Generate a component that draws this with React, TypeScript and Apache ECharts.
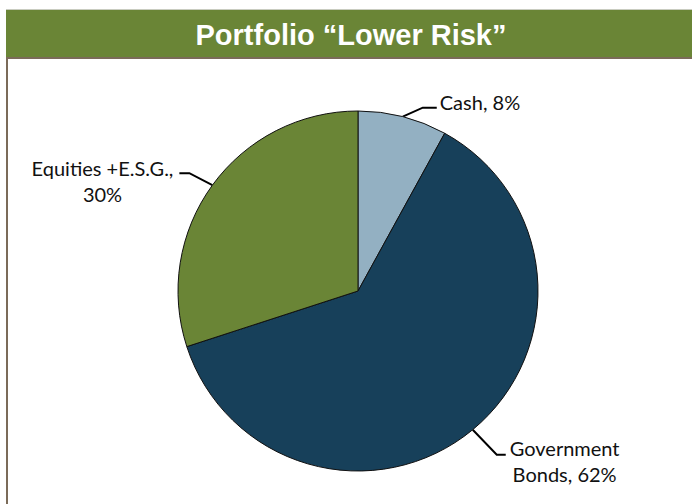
import React, { useEffect, useRef } from "react";
import * as echarts from "echarts";

const TITLE = "Portfolio \u201CLower Risk\u201D";
const categories = ["Cash", "Government Bonds", "Equities +E.S.G."];
const labelLines = [["Cash, 8%"], ["Government", "Bonds, 62%"], ["Equities +E.S.G.,", "30%"]];
const values = [8, 62, 30];
const colors = ["#93b0c2", "#17405a", "#6a8536"];

// leader-line shape per slice: first (slanted) segment offset, horizontal segment, gap to text, vertical shift of text
const leaders = [
  { d1: [20, -9], h: 14, gap: 3, dy: -6 },
  { d1: [24, 25], h: 9, gap: 4, dy: 6 },
  { d1: [-23, -12], h: -10, gap: 6, dy: 8 },
];

export default function App() {
  const ref = useRef<HTMLDivElement>(null);
  useEffect(() => {
    const chart = echarts.init(ref.current!, null, { renderer: "svg" });
    const data = categories.map((c, i) => ({
      name: c,
      value: values[i],
      itemStyle: { color: colors[i] },
      label: {
        formatter: labelLines[i].map((t) => "{c|" + t + "}").join("\n"),
      },
    }));
    chart.setOption({
      animation: false,
      backgroundColor: "#ffffff",
      graphic: [
        { type: "rect", shape: { x: 6, y: 9, width: 686, height: 1 }, style: { fill: "#c9ccc0" } },
        { type: "rect", shape: { x: 6, y: 10, width: 686, height: 47 }, style: { fill: "#6a8536" } },
        { type: "rect", shape: { x: 6, y: 57, width: 686, height: 2 }, style: { fill: "#7b6b59" } },
        { type: "rect", shape: { x: 6, y: 57, width: 2, height: 447 }, style: { fill: "#7b6b59" } },
        {
          type: "text",
          x: 351,
          y: 35,
          style: {
            text: TITLE,
            fill: "#ffffff",
            font: "bold 29px 'Liberation Sans', Arial, sans-serif",
            align: "center",
            verticalAlign: "middle",
          },
        },
      ],
      series: [
        {
          type: "pie",
          center: [358, 291],
          radius: 180,
          startAngle: 90,
          clockwise: true,
          itemStyle: { borderColor: "#111", borderWidth: 1 },
          label: {
            show: true,
            position: "outside",
            color: "#111",
            fontFamily: "Lato, sans-serif",
            fontSize: 20,
            rich: {
              c: {
                align: "center",
                color: "#111",
                fontFamily: "Lato, sans-serif",
                fontSize: 20,
                lineHeight: 26,
              },
            },
          },
          labelLine: {
            show: true,
            length: 18,
            length2: 10,
            lineStyle: { color: "#000", width: 2 },
          },
          labelLayout: (params: any) => {
            const i = params.dataIndex;
            const L = leaders[i];
            const p0 = params.labelLinePoints[0];
            const p1 = [p0[0] + L.d1[0], p0[1] + L.d1[1]];
            const p2 = [p1[0] + L.h, p1[1]];
            const right = L.h > 0;
            return {
              x: p2[0] + (right ? L.gap : -L.gap),
              y: p2[1] + L.dy,
              align: right ? "left" : "right",
              verticalAlign: "middle",
              labelLinePoints: [p0, p1, p2],
            };
          },
          emphasis: { disabled: true },
          data,
        },
      ],
    });
    return () => chart.dispose();
  }, []);
  return (
    <div
      ref={ref}
      style={{ position: "fixed", left: 0, top: 0, width: 692, height: 504 }}
    />
  );
}
